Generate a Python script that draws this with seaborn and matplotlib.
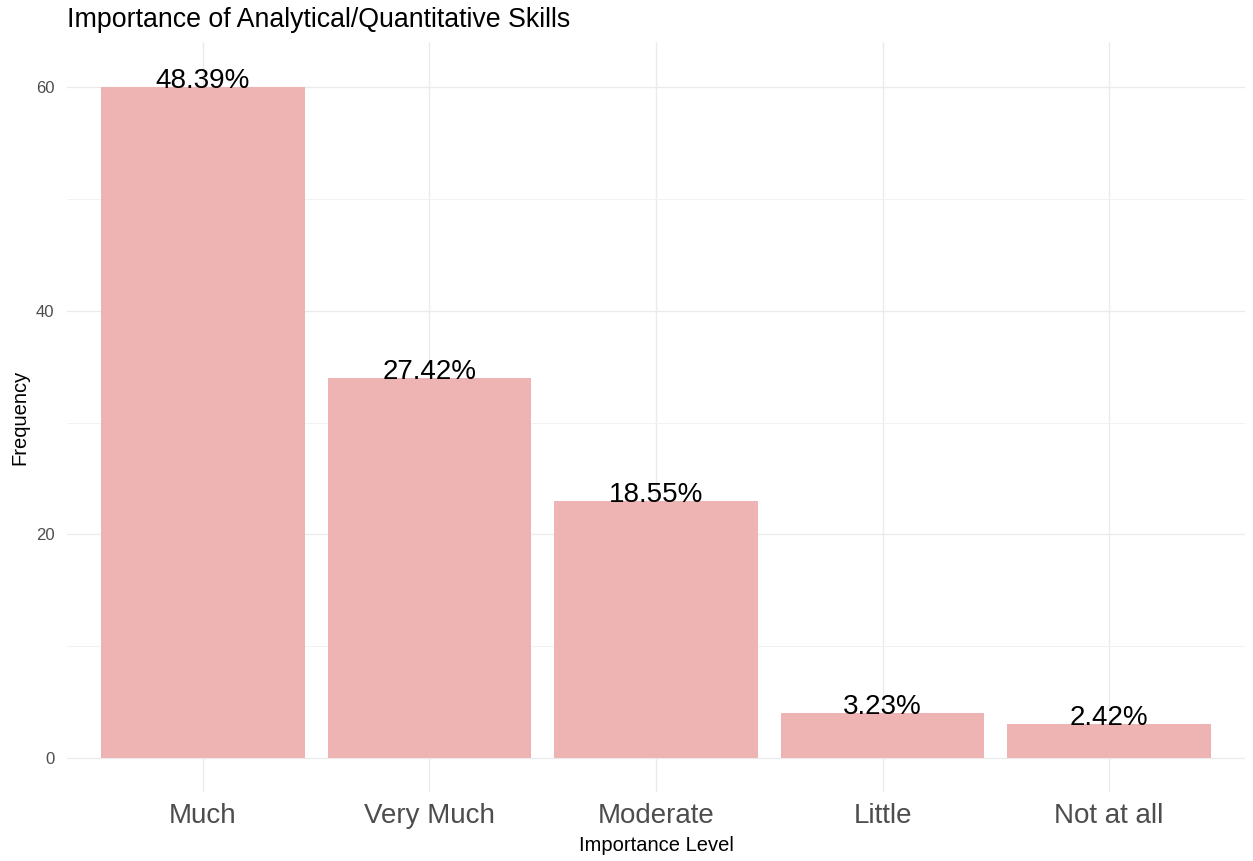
import pandas as pd
import numpy as np
import matplotlib
matplotlib.use("Agg")
import matplotlib.pyplot as plt
import seaborn as sns

# Importance levels and response counts
levels = ["Much", "Very Much", "Moderate", "Little", "Not at all"]
counts = [60, 34, 23, 4, 3]

df = pd.DataFrame({"level": levels, "count": counts})
df["pct"] = df["count"] / df["count"].sum() * 100

sns.set_theme(style="white")
plt.rcParams["font.family"] = ["Liberation Sans", "DejaVu Sans"]

fig = plt.figure(figsize=(12.53, 8.61), dpi=100)
ax = fig.add_axes([67 / 1253, 1 - 792 / 861, (1245 - 67) / 1253, (792 - 42) / 861])

sns.barplot(data=df, x="level", y="count", order=levels, color="#EEB4B4",
            saturation=1, width=0.9, linewidth=0, ax=ax, zorder=3)

# percentage labels sitting on top of each bar
for i, row in df.iterrows():
    ax.text(i, row["count"] - 0.1, f"{row['pct']:.2f}%", ha="center", va="baseline",
            fontsize=20, color="black", zorder=4)

ax.set_xlim(-0.6, len(levels) - 0.4)
ax.set_ylim(-3.05, 64.05)
ax.set_yticks([0, 20, 40, 60])
ax.set_yticks([10, 30, 50], minor=True)

# ggplot minimal-style grid
ax.grid(True, which="major", color="#EBEBEB", linewidth=1.0, zorder=0)
ax.grid(True, which="minor", axis="y", color="#F2F2F2", linewidth=0.7, zorder=0)
for s in ax.spines.values():
    s.set_visible(False)

ax.tick_params(axis="x", length=0, pad=8, labelsize=20, labelcolor="#4D4D4D")
ax.tick_params(axis="y", which="both", length=0, pad=9, labelsize=12, labelcolor="#4D4D4D")

ax.set_xlabel("Importance Level", fontsize=14.5, color="black", labelpad=5)
ax.set_ylabel("Frequency", fontsize=14.5, color="black", labelpad=5)
ax.set_title("Importance of Analytical/Quantitative Skills", loc="left",
             fontsize=19.3, color="black", pad=10.5)

fig.savefig("out.png", dpi=100, facecolor="white")
